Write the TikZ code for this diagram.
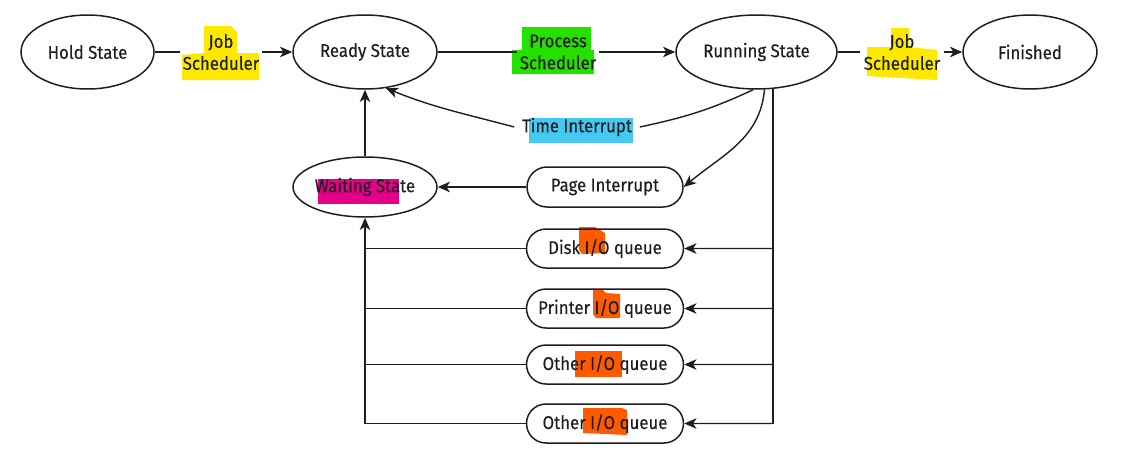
\documentclass[tikz,border=0pt]{standalone}
\usepackage{fontspec}
\setmainfont{Fira Sans}[FakeStretch=0.91,FakeBold=0.3]
\usetikzlibrary{shapes.geometric,shapes.misc,arrows.meta}
\definecolor{hlyellow}{HTML}{FFE800}
\definecolor{hlgreen}{HTML}{26E000}
\definecolor{hlblue}{HTML}{45C8F2}
\definecolor{hlmagenta}{HTML}{E5008A}
\definecolor{hlorange}{HTML}{FF5A00}
\definecolor{ink}{HTML}{1E1E1E}
\begin{document}
\begin{tikzpicture}[x=0.02cm,y=-0.02cm,
  every node/.style={font=\fontsize{10.5}{12.5}\selectfont, text=ink},
  st/.style={ellipse, draw=ink, line width=0.85pt, minimum height=1.48cm, inner sep=0pt},
  qbox/.style={rounded rectangle, draw=ink, line width=0.85pt, minimum width=3.14cm, minimum height=0.78cm, inner sep=0pt},
  lab/.style={align=center, inner sep=0pt, minimum height=0.9cm},
  ln/.style={draw=ink, line width=0.8pt},
  arr/.style={ln, -{Stealth[length=7pt,width=6pt,inset=2pt]}}
]
\useasboundingbox (0,0) rectangle (1123,454);
% highlights
\fill[hlyellow] (204,26) -- (231,26) -- (237,32) -- (237,53) -- (259,53) -- (259,80) -- (182,80) -- (182,55) -- (204,53) -- cycle;
\fill[hlgreen] (522,27) -- (591,27) -- (591,50) -- (594,50) -- (594,74) -- (512,74) -- (512,50) -- (522,50) -- cycle;
\fill[hlyellow] (891,28) -- (909,28) -- (909,47) -- (937,50) -- (937,80) -- (867,76) -- (867,47) -- (891,47) -- cycle;
\fill[hlblue] (529,118) rectangle (633,143);
\fill[hlmagenta] (318,179) rectangle (399,204);
\fill[hlorange] (579,227) -- (595,227) -- (605,233) -- (605,253) -- (582,254) -- (579,250) -- cycle;
\fill[hlorange] (593,290) -- (603,290) -- (606,293) -- (620,294) -- (620,318) -- (596,318) -- (593,314) -- cycle;
\fill[hlorange] (575,351) rectangle (622,377);
\fill[hlorange] (583,408) -- (622,408) -- (627,410) -- (627,435) -- (583,433) -- cycle;
% states
\node[st, minimum width=2.66cm] (hold) at (87.5,52) {Hold State};
\node[st, minimum width=2.88cm] (ready) at (365,52) {Ready State};
\node[st, minimum width=3.22cm] (run) at (756.5,52) {Running State};
\node[st, minimum width=2.68cm] (fin) at (1030,52) {Finished};
\node[st, minimum width=2.88cm, minimum height=1.2cm] (wait) at (365,187) {Waiting State};
% queues
\node[qbox, minimum height=0.8cm, minimum width=3.12cm] (page) at (605,187) {Page Interrupt};
\node[qbox] (disk) at (605,248.5) {Disk I/O queue};
\node[qbox] (printer) at (605,308.5) {Printer I/O queue};
\node[qbox] (oq1) at (605,364.5) {Other I/O queue};
\node[qbox] (oq2) at (605,423.5) {Other I/O queue};
% labels
\node[lab, minimum width=1.64cm] (js1) at (221,52) {Job\\Scheduler};
\node[lab, minimum width=1.64cm] (ps) at (558,52) {Process\\Scheduler};
\node[lab, minimum width=1.66cm] (js2) at (902,52) {Job\\Scheduler};
\node[lab, minimum height=0.5cm, minimum width=2.5cm] (ti) at (577,127) {Time Interrupt};
% connectors
\draw[ln] (hold) -- (js1);
\draw[arr] (js1) -- (ready);
\draw[ln] (ready) -- (ps);
\draw[arr] (ps) -- (run);
\draw[ln] (run) -- (js2);
\draw[arr] (js2) -- (fin);
\draw[ln] (run.-95) to[out=205,in=12] (ti.east);
\draw[arr] (ti.west) to[out=165,in=-22] (ready.-60);
\draw[arr] (run.-78) to[out=-95,in=40] (page.east);
\draw[arr] (page) -- (wait);
\draw[arr] (wait) -- (ready);
\draw[ln] (run.-66) -- (run.-66 |- oq2.center);
\foreach \q in {disk,printer,oq1,oq2} {
  \draw[arr] (run.-66 |- \q.center) -- (\q);
  \draw[ln] (\q) -- (wait.south |- \q.center);
}
\draw[arr] (wait.south |- oq2.center) -- (wait);
\end{tikzpicture}
\end{document}
